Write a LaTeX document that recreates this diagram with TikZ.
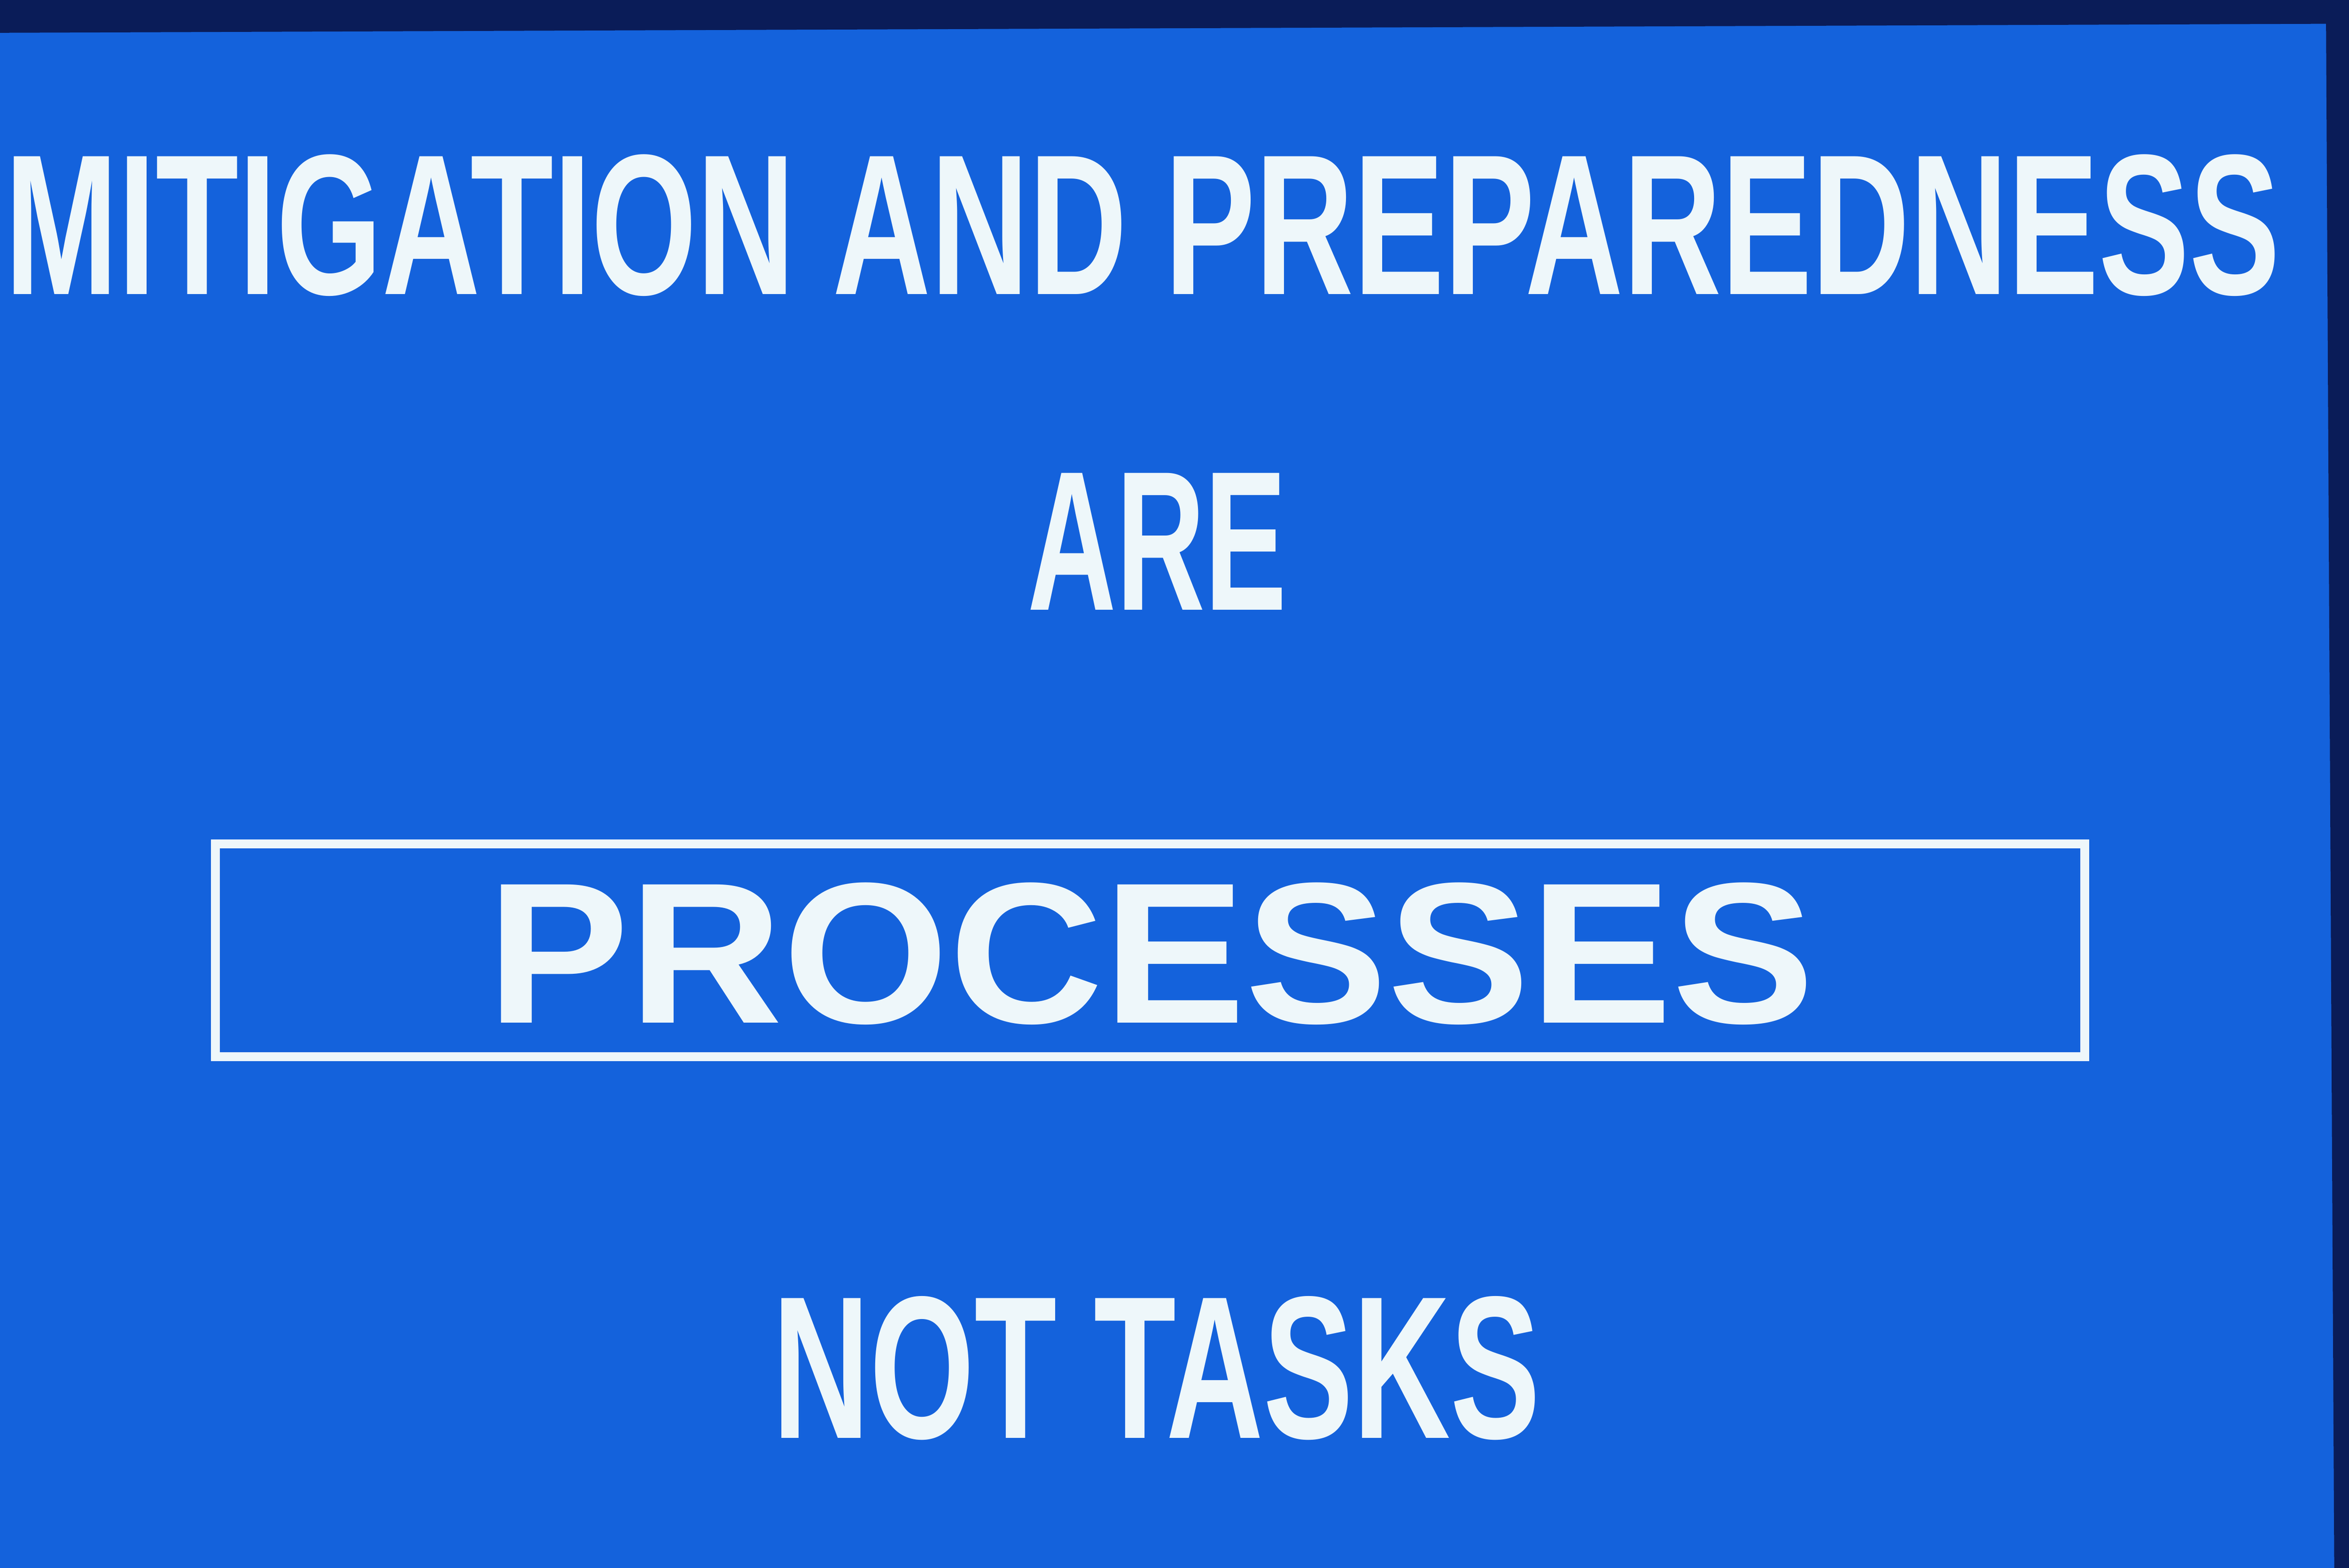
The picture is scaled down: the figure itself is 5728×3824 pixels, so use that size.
\documentclass[tikz,border=0pt]{standalone}
\usepackage{fontspec}
\setmainfont{Liberation Sans}
\usepackage{graphicx}
\usepackage{tikz}
\definecolor{slide}{HTML}{1462DC}
\definecolor{rim}{HTML}{0A1C58}
\definecolor{chalk}{HTML}{EEF7FA}
\tikzset{
  lettering/.style={text=chalk, inner sep=0pt, outer sep=0pt, anchor=base, font=\bfseries},
  frame/.style={draw=chalk, line width=1.1mm},
}
% squeeze a line of lettering to a given width, keeping its height
\newcommand{\squeeze}[3]{{\fontsize{#1}{#1}\selectfont\resizebox{#2}{\height}{#3}}}

\begin{document}
\begin{tikzpicture}[x=0.05mm,y=-0.05mm]
  \useasboundingbox (0,0) rectangle (5728,3824);
  \fill[slide] (0,0) rectangle (5728,3824);
  % dark rim of the slide mount
  \fill[rim] (0,0) -- (5728,0) -- (5728,3824) -- (5692,3824) -- (5672,58) -- (0,80) -- cycle;

  \node[lettering] (title) at (2786,718) {\squeeze{69.5pt}{277.4mm}{MITIGATION AND PREPAREDNESS}};
  \node[lettering] (are) at (2822,1487) {\squeeze{69pt}{31.6mm}{ARE}};
  \node[lettering] (proc) at (2806,2495) {\squeeze{69.7pt}{161.9mm}{PROCESSES}};
  \node[lettering] (nottasks) at (2820,3507) {\squeeze{70.5pt}{93.6mm}{NOT TASKS}};

  \draw[frame] (525,2058) rectangle (5084,2577);
\end{tikzpicture}
\end{document}
